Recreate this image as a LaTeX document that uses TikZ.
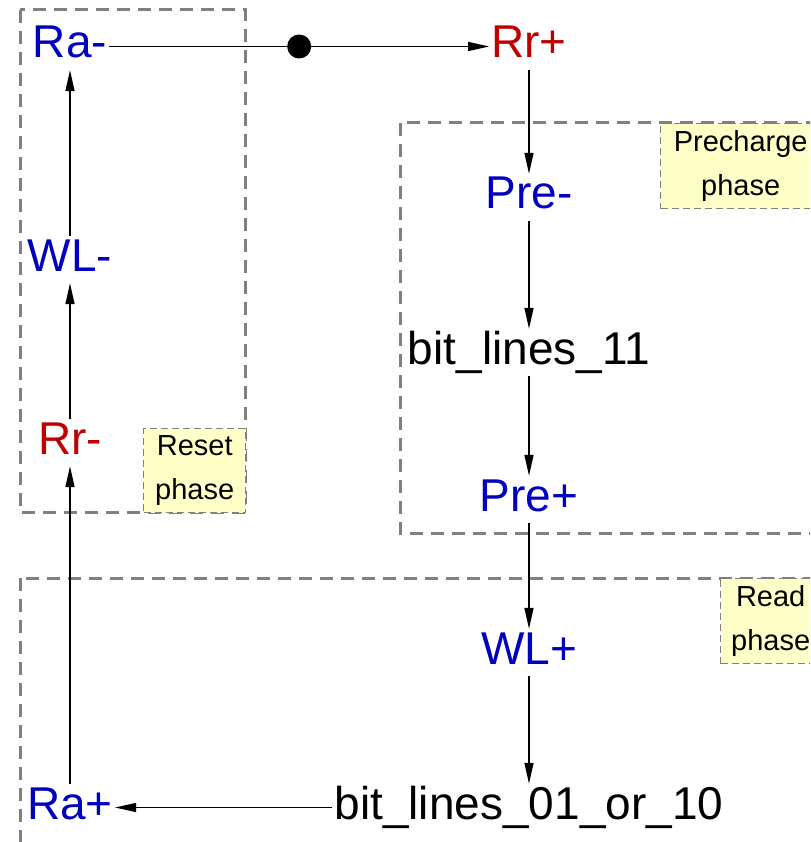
\documentclass[tikz,border=0pt]{standalone}
\usepackage{fontspec}
\setmainfont{Liberation Sans}
\usepackage{tikz}
\usetikzlibrary{shapes,arrows.meta,positioning,calc}
\definecolor{sigblue}{RGB}{0,0,190}
\definecolor{sigred}{RGB}{190,0,0}
\definecolor{notefill}{RGB}{255,255,200}
\definecolor{boxgray}{RGB}{128,128,128}
\begin{document}
\begin{tikzpicture}[x=1pt,y=-1pt,
	sig/.style={anchor=base, inner sep=2pt, font=\fontsize{46}{50}\selectfont, text height=33pt, text depth=10pt},
	up/.style={sig, text=sigblue},
	rr/.style={sig, text=sigred},
	plain/.style={sig, text=black},
	phasebox/.style={draw=boxgray, dash pattern=on 7pt off 4pt, line width=1.4pt, fill=notefill, anchor=north west, align=center, inner sep=0pt, font=\fontsize{29}{44}\selectfont},
	region/.style={draw=boxgray, line width=3pt, dash pattern=on 13pt off 8pt},
	flow/.style={-{Triangle[length=21pt,width=9pt]}, line width=1.4pt},
	dotmark/.style={circle, fill=black, inner sep=0pt, minimum size=24pt}]
			\useasboundingbox (0,0) rectangle (810,842);
			\clip (0,0) rectangle (810,842);
			\draw[region] (20,10) rectangle (245,512);
			\draw[region] (400,123) rectangle (840,533);
			\draw[region] (20,578) rectangle (840,870);
			\node[phasebox, minimum width=102pt, minimum height=84pt] (resetnote) at (143,428) {Reset\\phase};
			\node[phasebox, minimum width=160pt, minimum height=85pt] (prenote) at (660,123) {Precharge\\phase};
			\node[phasebox, minimum width=100pt, minimum height=85pt] (readnote) at (720,578) {Read\\phase};
			\node[up] (ramin) at (70,58) {Ra-};
			\node[rr] (rrplus) at (529,58) {Rr+};
			\node[up] (premin) at (529,209) {Pre-};
			\node[plain] (bl11) at (529,364) {bit\_lines\_11};
			\node[up] (preplus) at (529,511) {Pre+};
			\node[up] (wlplus) at (529,664) {WL+};
			\node[plain] (bl0110) at (529,819) {bit\_lines\_01\_or\_10};
			\node[up] (raplus) at (70,819) {Ra+};
			\node[rr] (rrmin) at (70,454) {Rr-};
			\node[up] (wlmin) at (70,271) {WL-};
			\draw[flow] (ramin) -- node[dotmark] (fork) {} (rrplus);
			\draw[flow] (rrplus) -- (premin);
			\draw[flow] (premin) -- (bl11);
			\draw[flow] (bl11) -- (preplus);
			\draw[flow] (preplus) -- (wlplus);
			\draw[flow] (wlplus) -- (bl0110);
			\draw[flow] (bl0110) -- (raplus);
			\draw[flow] (raplus) -- (rrmin);
			\draw[flow] (rrmin) -- (wlmin);
			\draw[flow] (wlmin) -- (ramin);
		\end{tikzpicture}
\end{document}
